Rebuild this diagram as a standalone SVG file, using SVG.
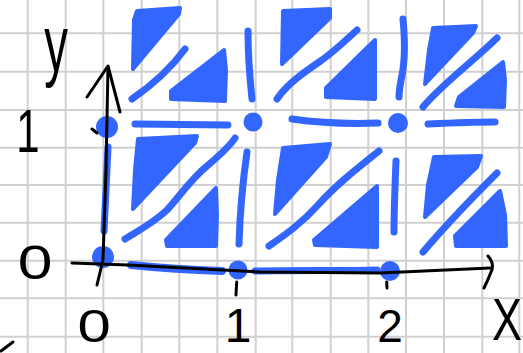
<svg xmlns="http://www.w3.org/2000/svg" width="523" height="353" viewBox="0 0 523 353">
<style>
.grid line{stroke:#d0d0d0;stroke-width:2}
.tri{fill:#3366ff;stroke:#3366ff;stroke-width:4;stroke-linejoin:round}
.bar{fill:none;stroke:#3366ff;stroke-width:7;stroke-linecap:round;stroke-linejoin:round}
.dot{fill:#3366ff}
.ax{fill:none;stroke:#000;stroke-width:3;stroke-linecap:round;stroke-linejoin:round}
.lbl{font-family:"Liberation Sans",Arial,sans-serif;fill:#000;text-anchor:middle}
</style>
<rect width="523" height="353" fill="#fff"/>
<g class="grid" id="grid">
<line x1="27.7" y1="0" x2="27.7" y2="353"/><line x1="65.7" y1="0" x2="65.7" y2="353"/><line x1="103.3" y1="0" x2="103.3" y2="353"/><line x1="141.7" y1="0" x2="141.7" y2="353"/><line x1="179.3" y1="0" x2="179.3" y2="353"/><line x1="217.3" y1="0" x2="217.3" y2="353"/><line x1="255.7" y1="0" x2="255.7" y2="353"/><line x1="292.3" y1="0" x2="292.3" y2="353"/><line x1="330.7" y1="0" x2="330.7" y2="353"/><line x1="368.3" y1="0" x2="368.3" y2="353"/><line x1="406" y1="0" x2="406" y2="353"/><line x1="444" y1="0" x2="444" y2="353"/><line x1="482.3" y1="0" x2="482.3" y2="353"/><line x1="519.3" y1="0" x2="519.3" y2="353"/>
<line x1="0" y1="33.3" x2="523" y2="33.3"/><line x1="0" y1="71.7" x2="523" y2="71.7"/><line x1="0" y1="110" x2="523" y2="110"/><line x1="0" y1="147.7" x2="523" y2="147.7"/><line x1="0" y1="185" x2="523" y2="185"/><line x1="0" y1="222.7" x2="523" y2="222.7"/><line x1="0" y1="260.7" x2="523" y2="260.7"/><line x1="0" y1="298.3" x2="523" y2="298.3"/><line x1="0" y1="336.7" x2="523" y2="336.7"/>
</g>
<g id="tile-0-1">
<polygon class="tri" points="137,11 180,8 179,14 133,69 134,20"/>
<path class="bar" d="M132,99 C148,88 168,72 185,49"/>
<polygon class="tri" points="224,50 171,91 171,99 225,101 226,70"/>
</g>
<g id="tile-1-1">
<polygon class="tri" points="283,11 330,9 330,18 282,64"/>
<path class="bar" d="M277,99 C287,84 303,73 322,60 C337,49 348,38 357,30"/>
<polygon class="tri" points="375,40 326,88 326,97 375,99"/>
</g>
<g id="tile-2-1">
<polygon class="tri" points="433,28 476,26 473,33 425,84 429,50"/>
<path class="bar" d="M423,107 C440,86 470,64 497,38"/>
<polygon class="tri" points="503,62 459,97 456,106 504,107 505,80"/>
</g>
<g id="tile-0-0">
<polygon class="tri" points="138,139 197,136 195,143 133,209 135,170"/>
<path class="bar" d="M125,239 C136,232 152,224 167,210 C180,196 190,180 207,166 C220,155 230,146 235,138"/>
<polygon class="tri" points="216,188 166,240 167,246 216,246 217,215"/>
</g>
<g id="tile-1-0">
<polygon class="tri" points="283,148 330,144 326,157 275,214 278,180"/>
<path class="bar" d="M269,246 C285,235 302,223 318,205 C335,186 355,170 379,151"/>
<polygon class="tri" points="377,186 314,240 315,245 377,247 377,215"/>
</g>
<g id="tile-2-0">
<polygon class="tri" points="434,157 481,156 477,167 425,217 428,185"/>
<path class="bar" d="M423,252 C440,232 460,210 497,173"/>
<polygon class="tri" points="500,191 455,236 456,246 506,246 505,215"/>
</g>
<g id="edges">
<path class="bar" d="M135,124 L228,125"/>
<path class="bar" d="M292,119 C320,123 350,124 378,123"/>
<path class="bar" d="M428,124 C450,123 475,122 495,122"/>
<path class="bar" d="M108,147 L104,231"/>
<path class="bar" d="M248,31 C248,55 250,80 252,99"/>
<path class="bar" d="M247,152 C243,180 240,210 239,244"/>
<path class="bar" d="M403,19 C405,40 405,60 402,75 C400,85 399,92 399,97"/>
<path class="bar" d="M396,161 C395,185 394,210 394,232"/>
<path class="bar" style="stroke-width:8" d="M131,265 C160,268 190,270 222,271"/>
<path class="bar" d="M255,271 C300,270 340,271 377,270"/>
</g>
<g id="vertices">
<circle class="dot" cx="103" cy="257" r="11"/>
<circle class="dot" cx="238" cy="270" r="9.5"/>
<circle class="dot" cx="390" cy="271" r="10"/>
<circle class="dot" cx="107" cy="127" r="11"/>
<circle class="dot" cx="253" cy="122" r="9.5"/>
<circle class="dot" cx="398" cy="123" r="10"/>
</g>
<g id="axes">
<path class="ax" d="M97,285 L103,260 L106,170 L108,67"/>
<path class="ax" d="M87,97 L108,66 L120,112"/>
<path class="ax" d="M72,263 L128,265 L260,272 L380,273 L490,268"/>
<path class="ax" d="M488,256 Q495,264 491,272 Q488,280 484,288"/>
<path class="ax" d="M236.7,282 L236,295"/>
<path class="ax" d="M386.7,282 L387,288"/>
<path class="ax" d="M92,129 L97,133"/>
<path class="ax" d="M1,351 L13,342"/>
</g>
<g id="labels">
<text class="lbl" transform="translate(56,71) scale(0.6,1)" font-size="79">y</text>
<text class="lbl" transform="translate(28,152) scale(1,1.45)" font-size="42">1</text>
<text class="lbl" transform="translate(35,279) scale(1.3,1)" font-size="48">0</text>
<text class="lbl" transform="translate(94,342) scale(1.3,1)" font-size="46">0</text>
<text class="lbl" x="238" y="342" font-size="48">1</text>
<text class="lbl" x="390" y="342" font-size="46">2</text>
<text class="lbl" style="text-anchor:end" transform="translate(522,340) scale(0.75,1)" font-size="60">X</text>
</g>
</svg>
